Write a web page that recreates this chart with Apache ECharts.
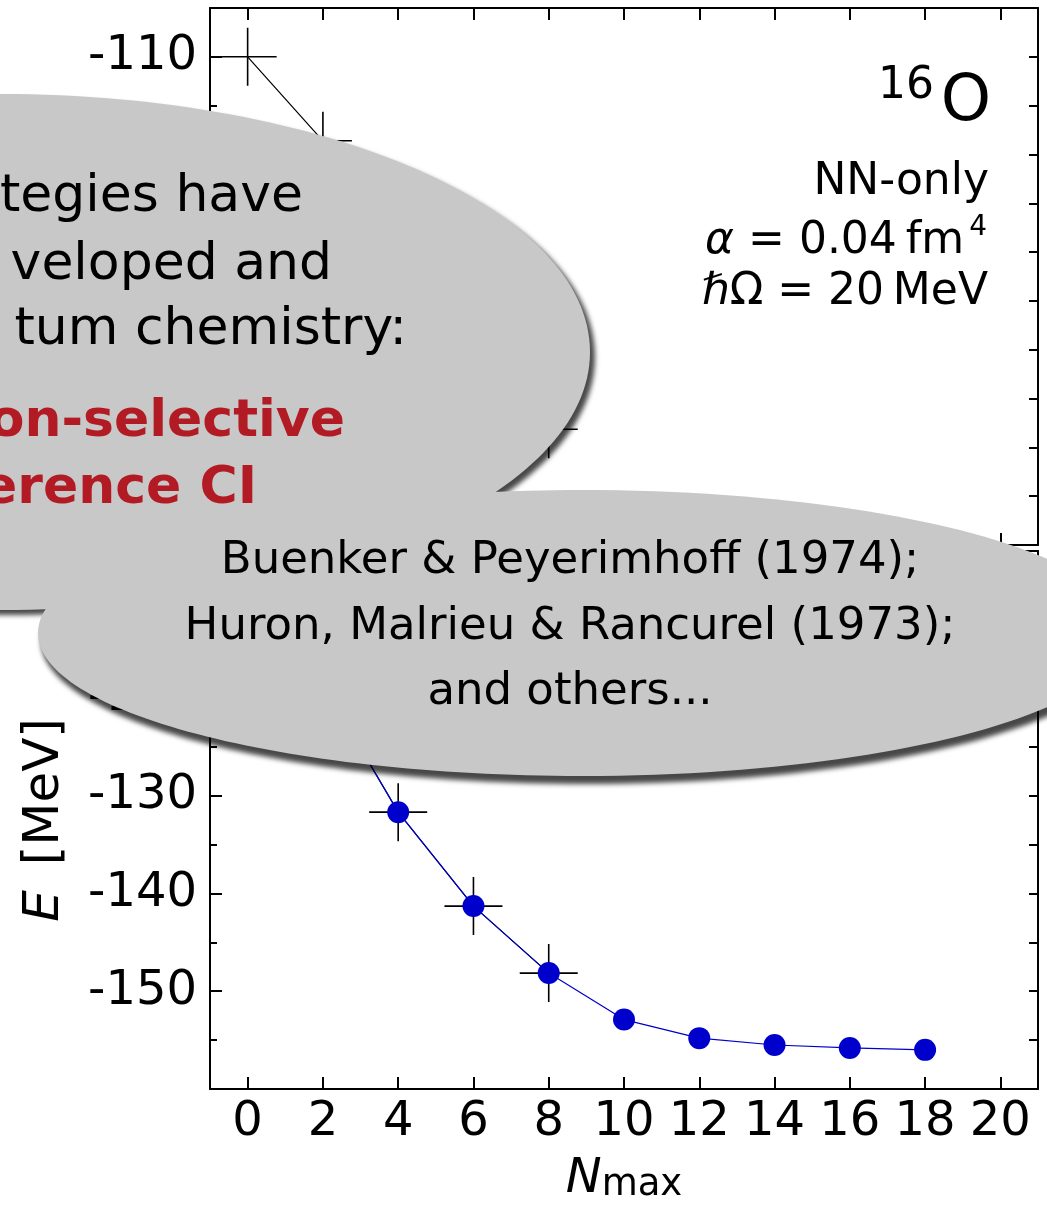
<!DOCTYPE html>
<html>
<head>
<meta charset="utf-8">
<script src="https://cdn.jsdelivr.net/npm/echarts@6/dist/echarts.min.js"></script>
<style>
html,body{margin:0;padding:0;background:#fff;}
#chart{width:1047px;height:1205px;}
</style>
</head>
<body>
<div id="chart"></div>
<script>
// ---- data ----
const nmaxCross = [0, 2, 4, 6, 8];
const eCross = [-110.0, -118.6, -131.7, -141.3, -148.15];
const nmaxIT = [0, 2, 4, 6, 8, 10, 12, 14, 16, 18];
const eIT = [-110.0, -118.6, -131.7, -141.3, -148.15, -152.9, -154.8, -155.5, -155.8, -156.0];
const xTickLabels = [0, 2, 4, 6, 8, 10, 12, 14, 16, 18, 20];
const yTickLabels = [-150, -140, -130, -120, -110];
const bubble1Lines = ['tegies have', 'veloped and', 'tum chemistry:'];
const bubble1Red = ['on-selective', 'erence CI'];
const bubble2Lines = ['Buenker & Peyerimhoff (1974);', 'Huron, Malrieu & Rancurel (1973);', 'and others...'];

const FONT = 'DejaVu Sans';
const chart = echarts.init(document.getElementById('chart'), null, {renderer: 'canvas'});

const crossData = nmaxCross.map((x, i) => [x, eCross[i]]);
const itData = nmaxIT.map((x, i) => [x, eIT[i]]);
const crossPath = 'path://M-29,-0.8L29,-0.8L29,0.8L-29,0.8ZM-0.8,-29L0.8,-29L0.8,29L-0.8,29Z';

function xAxes(grid, withLabels) {
  const common = {
    type: 'value', gridIndex: grid, min: -1, max: 21, splitNumber: 11,
    splitLine: {show: false},
    axisLine: {show: true, onZero: false, lineStyle: {color: '#000', width: 2}},
    axisTick: {show: true, inside: true, length: 12, lineStyle: {color: '#000', width: 2}}
  };
  const bottom = Object.assign({}, common, {
    position: 'bottom',
    axisLabel: {
      show: withLabels, inside: false, margin: 10, fontSize: 48, fontFamily: FONT, color: '#000',
      formatter: v => (xTickLabels.indexOf(v) >= 0 ? String(v) : '')
    }
  });
  if (withLabels) {
    bottom.name = '{n|N}{s|max}';
    bottom.nameLocation = 'middle';
    bottom.nameGap = 67;
    bottom.nameTextStyle = {
      color: '#000', fontFamily: FONT,
      rich: {
        n: {fontSize: 48, fontStyle: 'italic', fontFamily: FONT, color: '#000', lineHeight: 48, verticalAlign: 'bottom'},
        s: {fontSize: 37, fontFamily: FONT, color: '#000', lineHeight: 28, verticalAlign: 'bottom'}
      }
    };
  }
  const top = Object.assign({}, common, {position: 'top', axisLabel: {show: false}});
  return [bottom, top];
}

function yAxes(grid, withName) {
  const base = {type: 'value', gridIndex: grid, min: -160, max: -105, splitLine: {show: false}};
  const major = Object.assign({}, base, {
    position: 'left', interval: 10,
    axisLine: {show: true, onZero: false, lineStyle: {color: '#000', width: 2}},
    axisTick: {show: true, inside: true, length: 12, lineStyle: {color: '#000', width: 2}},
    axisLabel: {
      margin: 13, fontSize: 48, fontFamily: FONT, color: '#000',
      formatter: v => (yTickLabels.indexOf(v) >= 0 ? String(v) : '')
    }
  });
  if (withName) {
    major.name = '{i|E}\u2002[MeV]';
    major.nameLocation = 'middle';
    major.nameGap = 140;
    major.nameTextStyle = {
      color: '#000', fontSize: 50, fontFamily: FONT,
      rich: {i: {fontStyle: 'italic', fontSize: 50, fontFamily: FONT, color: '#000'}}
    };
  }
  const minor = Object.assign({}, base, {
    position: 'left', interval: 5,
    axisLine: {show: false, onZero: false},
    axisTick: {show: true, inside: true, length: 7, lineStyle: {color: '#000', width: 2}},
    axisLabel: {show: false}
  });
  const right = Object.assign({}, base, {
    position: 'right', interval: 5,
    axisLine: {show: true, onZero: false, lineStyle: {color: '#000', width: 2}},
    axisTick: {show: true, inside: true, length: 9, lineStyle: {color: '#000', width: 2}},
    axisLabel: {show: false}
  });
  return [major, minor, right];
}

function txt(text, x, y, size, opts) {
  opts = opts || {};
  return {
    type: 'text', x: x, y: y, z: opts.z || 110, silent: true,
    style: {
      text: text,
      fill: opts.fill || '#000',
      fontSize: size,
      fontFamily: FONT,
      fontWeight: opts.weight || 'normal',
      fontStyle: opts.style || 'normal',
      align: opts.align || 'right',
      textAlign: opts.align || 'right',
      verticalAlign: 'middle',
      textVerticalAlign: 'middle',
      rich: opts.rich
    }
  };
}

const graphics = [];
// bubble 1
graphics.push({
  type: 'ellipse', z: 100, silent: true,
  shape: {cx: 0, cy: 352, rx: 590, ry: 258},
  style: {fill: '#C8C8C8', shadowBlur: 5, shadowOffsetX: 5, shadowOffsetY: 5, shadowColor: 'rgba(0,0,0,0.72)'}
});
const b1Right = [303, 332, 407];
const b1Base = [215, 283, 348];
bubble1Lines.forEach((t, i) => graphics.push(txt(t, b1Right[i], b1Base[i] - 18, 52, {z: 101})));
const b1RedRight = [345, 257];
const b1RedBase = [440, 507];
bubble1Red.forEach((t, i) => graphics.push(txt(t, b1RedRight[i], b1RedBase[i] - 18, 52, {z: 101, fill: '#B31B24', weight: 'bold'})));
// bubble 2
graphics.push({
  type: 'ellipse', z: 102, silent: true,
  shape: {cx: 582, cy: 633, rx: 544, ry: 143},
  style: {fill: '#C8C8C8', shadowBlur: 5, shadowOffsetX: 3, shadowOffsetY: 8, shadowColor: 'rgba(0,0,0,0.72)'}
});
const b2Base = [577, 643, 708];
bubble2Lines.forEach((t, i) => graphics.push(txt(t, 570, b2Base[i] - 15.6, 45, {z: 103, align: 'center'})));
// top-right annotation
graphics.push(txt('O', 991, 103, 64, {z: 50}));
graphics.push(txt('16', 934, 87, 44, {z: 50}));
graphics.push(txt('NN-only', 989, 183, 44, {z: 50}));
graphics.push(txt('{i|α} = 0.04\u2009fm', 964, 242, 44, {z: 50, rich: {i: {fontStyle: 'italic', fontSize: 44, fontFamily: FONT, fill: '#000'}}}));
graphics.push(txt('4', 987, 228, 28, {z: 50}));
graphics.push(txt('\u210FΩ = 20\u2009MeV', 988, 293, 44, {z: 50}));

const option = {
  backgroundColor: '#fff',
  animation: false,
  grid: [
    {left: 210, right: 9, top: 8, height: 537, containLabel: false},
    {left: 210, right: 9, top: 551, height: 540, containLabel: false}
  ],
  xAxis: [].concat(xAxes(0, false), xAxes(1, true)),
  yAxis: [].concat(yAxes(0, false), yAxes(1, true)),
  series: [
    {
      type: 'line', xAxisIndex: 0, yAxisIndex: 0, data: crossData,
      symbol: crossPath, symbolSize: 58, symbolKeepAspect: true,
      itemStyle: {color: '#000'}, lineStyle: {color: '#000', width: 1.2}, z: 3
    },
    {
      type: 'line', xAxisIndex: 2, yAxisIndex: 3, data: crossData,
      symbol: crossPath, symbolSize: 58, symbolKeepAspect: true,
      itemStyle: {color: '#000'}, lineStyle: {color: '#000', width: 1.2}, z: 3
    },
    {
      type: 'line', xAxisIndex: 2, yAxisIndex: 3, data: itData,
      symbol: 'circle', symbolSize: 22,
      itemStyle: {color: '#0000CC'}, lineStyle: {color: '#0000CC', width: 1.2}, z: 4
    }
  ],
  graphic: {elements: graphics}
};
chart.setOption(option);
</script>
</body>
</html>
